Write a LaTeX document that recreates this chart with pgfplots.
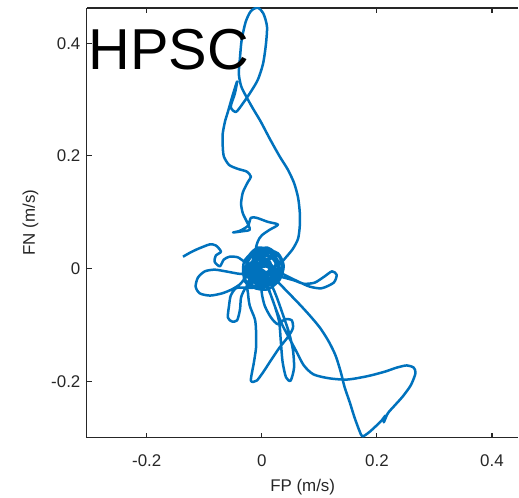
\documentclass[border=0pt]{standalone}
\usepackage{pgfplots}
\pgfplotsset{compat=1.18}
\usepackage{fontspec}
\setmainfont{Liberation Sans}
\definecolor{matblue}{RGB}{0,114,189}
\definecolor{axgray}{RGB}{38,38,38}
\pgfplotsset{
  commonax/.style={
    at={(87bp,57bp)}, anchor=south west,
    scale only axis, width=432bp, height=430bp,
    xmin=-0.304, xmax=0.446, ymin=-0.3, ymax=0.4625,
    tick align=inside, major tick length=5bp,
    axis line style={axgray, line width=1.1bp, -},
    tick style={axgray, line width=1.1bp},
  }
}
\begin{document}
\begin{tikzpicture}
\path (0,0) rectangle (519bp,495bp);
\begin{axis}[commonax,
  axis x line*=top, axis y line=none,
  xtick={-0.2,0,0.2,0.4}, xticklabels={},
]
\addplot[draw=none] coordinates {(0,0)};
\end{axis}
\begin{axis}[commonax,
  axis x line*=bottom, axis y line*=left,
  xtick={-0.2,0,0.2,0.4}, xticklabels={-0.2,0,0.2,0.4},
  ytick={-0.2,0,0.2,0.4}, yticklabels={-0.2,0,0.2,0.4},
  every tick label/.append style={text=axgray, font=\fontsize{17}{19}\selectfont},
  xticklabel style={yshift=-14bp},
  yticklabel style={xshift=-3bp},
  xlabel={FP (m/s)}, ylabel={FN (m/s)},
  label style={text=axgray, font=\fontsize{17}{19}\selectfont},
  xlabel style={yshift=-5bp},
  ylabel style={yshift=6bp},
  clip=true,
]
\addplot[color=matblue, line width=2.5bp, line join=round, smooth, tension=0.45] coordinates {
(-0.137,0.021) (-0.125,0.028) (-0.113,0.034) (-0.101,0.039) (-0.090,0.043) (-0.080,0.041) (-0.071,0.030) (-0.080,0.023) (-0.082,0.012) (-0.073,0.004) (-0.066,0.016) (-0.056,0.021) (-0.042,0.020) (-0.030,0.012) (-0.017,0.005)
(-0.007,-0.002) (0.005,0.012) (0.017,0.020) (0.010,0.034) (-0.007,0.037) (-0.021,0.025) (-0.026,0.007) (-0.017,-0.012) (0,-0.023) (0.017,-0.016) (0.028,0.002) (0.023,0.023) (0.003,0.030) (-0.014,0.020) (-0.017,-0.002) (-0.007,-0.020) (0.010,-0.027) (0.024,-0.012) (0.030,0.009) (0.017,0.027) (-0.003,0.023) (-0.010,0.005) (0,-0.009) (0.014,-0.002) (0.010,0.016) (-0.003,0.012)
(0,0.005) (0.014,0.020) (0.024,0.009) (0.017,-0.009) (0,-0.016) (-0.014,-0.005) (-0.010,0.012) (0.007,0.023) (0.024,0.016) (0.031,-0.002) (0.021,-0.023) (0,-0.030) (-0.021,-0.020) (-0.028,0.002) (-0.017,0.023) (0.003,0.034) (0.028,0.027) (0.038,0.005) (0.031,-0.020) (0.010,-0.037) (-0.014,-0.034) (-0.031,-0.016) (-0.031,0.012) (-0.014,0.030) (0.010,0.037) (0.031,0.020) (0.035,-0.005) (0.017,-0.027) (-0.007,-0.027) (-0.021,-0.005) (-0.010,0.016) (0.010,0.012) (0.014,-0.005) (0,-0.012) (-0.007,0.002) (0.007,0.005)
(-0.010,0.030) (-0.007,0.048) (0,0.059) (0.014,0.069) (0.028,0.078) (0.010,0.083) (-0.009,0.090) (-0.019,0.090) (-0.024,0.076) (-0.038,0.067) (-0.050,0.064) (-0.035,0.066) (-0.021,0.069) (-0.026,0.083) (-0.033,0.098) (-0.036,0.115) (-0.033,0.135) (-0.024,0.154) (-0.019,0.163) (-0.026,0.172) (-0.042,0.177) (-0.057,0.184) (-0.066,0.199) (-0.068,0.218) (-0.068,0.239) (-0.064,0.261) (-0.059,0.278) (-0.052,0.303) (-0.043,0.332) (-0.047,0.310) (-0.054,0.287) (-0.045,0.278) (-0.033,0.293) (-0.019,0.314) (-0.007,0.335) (0.002,0.363) (0.007,0.397) (0.009,0.429) (0.003,0.452) (-0.007,0.463) (-0.019,0.457) (-0.028,0.438) (-0.035,0.406) (-0.038,0.374) (-0.040,0.346) (-0.036,0.324) (-0.028,0.307) (-0.016,0.285) (-0.002,0.261) (0.014,0.230) (0.031,0.199) (0.045,0.176) (0.056,0.152) (0.063,0.126) (0.066,0.099) (0.066,0.076) (0.063,0.053) (0.054,0.035) (0.042,0.020) (0.030,0.007)
(0.014,0.002) (0,0.005) (-0.012,-0.005) (-0.021,-0.023) (-0.010,-0.034) (0.007,-0.032) (0.021,-0.023) (0.024,-0.005) (0.014,0.009) (-0.003,0.016) (-0.017,0.012) (-0.028,-0.002) (-0.031,-0.020) (-0.021,-0.030) (-0.003,-0.030)
(-0.024,-0.012) (-0.042,-0.009) (-0.063,-0.005) (-0.082,-0.002) (-0.099,-0.005) (-0.111,-0.016) (-0.115,-0.032) (-0.108,-0.044) (-0.090,-0.048) (-0.069,-0.044) (-0.052,-0.037) (-0.038,-0.028) (-0.028,-0.016)
(-0.014,-0.005) (0,-0.002) (0.010,-0.012) (0.003,-0.027) (-0.014,-0.034) (-0.031,-0.034)
(-0.045,-0.035) (-0.054,-0.048) (-0.057,-0.066) (-0.059,-0.087) (-0.052,-0.094) (-0.043,-0.092) (-0.038,-0.073) (-0.036,-0.051) (-0.028,-0.034) (-0.014,-0.020)
(0.003,-0.012) (0.021,-0.012) (0.038,-0.016) (0.056,-0.021) (0.073,-0.027) (0.092,-0.025) (0.109,-0.014) (0.122,-0.005) (0.130,-0.011) (0.125,-0.025) (0.104,-0.035) (0.083,-0.032) (0.063,-0.023) (0.045,-0.014) (0.028,-0.005) (0.014,0.005)
(0,0.012) (-0.010,0.005) (-0.007,-0.011) (0.007,-0.016) (0.017,-0.005) (0.014,0.012) (0,0.020) (-0.014,0.012) (-0.021,-0.002)
(-0.003,-0.002) (0.007,-0.009) (0.017,0.002) (0.010,0.016) (-0.007,0.020) (-0.017,0.005) (-0.010,-0.012) (0.007,-0.020) (0.024,-0.009) (0.028,0.012) (0.014,0.030) (-0.007,0.030) (-0.024,0.016) (-0.024,-0.012) (-0.007,-0.027) (0.014,-0.023)
(-0.024,-0.023) (-0.024,-0.044) (-0.021,-0.066) (-0.012,-0.090) (-0.010,-0.112) (-0.010,-0.140) (-0.014,-0.168) (-0.019,-0.199) (-0.009,-0.199) (0.003,-0.183) (0.017,-0.161) (0.031,-0.140) (0.045,-0.122) (0.054,-0.106) (0.052,-0.092) (0.040,-0.090) (0.028,-0.099) (0.016,-0.087) (0.005,-0.066) (0,-0.044) (0,-0.027)
(0.010,-0.034) (0.021,-0.062) (0.030,-0.094) (0.033,-0.129) (0.036,-0.165) (0.042,-0.193) (0.050,-0.199) (0.056,-0.176) (0.054,-0.144) (0.047,-0.113) (0.036,-0.080) (0.026,-0.051) (0.017,-0.030) (0.007,-0.020)
(-0.007,-0.016) (-0.014,-0.002) (-0.003,0.009) (0.010,0.005) (0.017,-0.011)
(0.031,-0.027) (0.049,-0.046) (0.066,-0.064) (0.083,-0.083) (0.101,-0.105) (0.116,-0.129) (0.128,-0.154) (0.137,-0.183) (0.144,-0.211) (0.153,-0.238) (0.161,-0.264) (0.170,-0.289) (0.175,-0.298) (0.186,-0.291) (0.198,-0.280) (0.208,-0.270) (0.215,-0.261) (0.212,-0.273) (0.219,-0.257) (0.231,-0.243) (0.245,-0.227) (0.259,-0.207) (0.267,-0.186) (0.264,-0.176) (0.252,-0.172) (0.234,-0.176) (0.214,-0.183) (0.184,-0.191) (0.149,-0.197) (0.118,-0.195) (0.090,-0.188) (0.073,-0.172) (0.061,-0.149) (0.049,-0.126) (0.036,-0.101) (0.026,-0.076) (0.017,-0.051) (0.010,-0.030) (0.003,-0.012) (0,-0.002)
};
\end{axis}
\node[anchor=base west, inner sep=0pt, font=\fontsize{58}{60}\selectfont] at (88.5bp,425bp) {HPSC};
\end{tikzpicture}
\end{document}
